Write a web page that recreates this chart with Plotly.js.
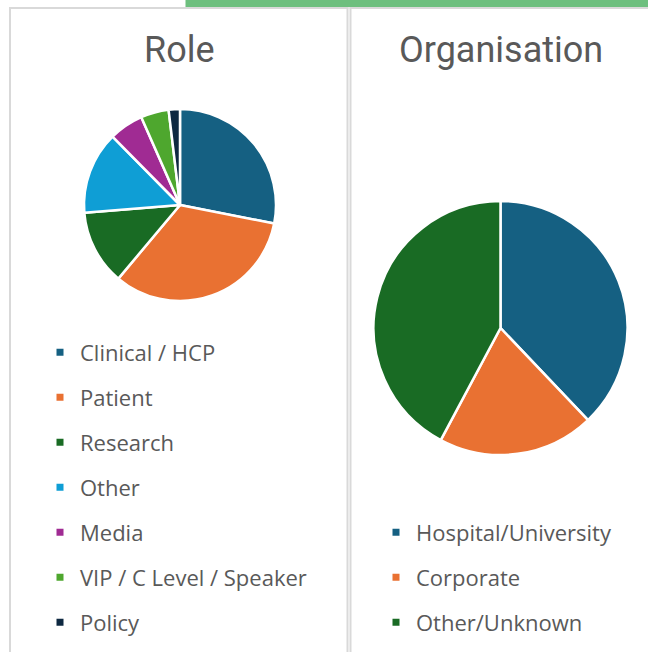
<!DOCTYPE html>
<html>
<head>
<meta charset="utf-8">
<script src="https://cdn.plot.ly/plotly-3.0.1.min.js"></script>
<style>html,body{margin:0;padding:0;background:#fff;}#chart{width:648px;height:652px;}</style>
</head>
<body>
<div id="chart"></div>
<script>
const roleLabels = ['Clinical / HCP', 'Patient', 'Research', 'Other', 'Media', 'VIP / C Level / Speaker', 'Policy'];
const roleValues = [28.1, 33.0, 12.6, 13.9, 5.8, 4.7, 1.9];
const roleColors = ['#156082', '#e97132', '#196b24', '#0f9ed5', '#a02b93', '#4ea72e', '#0e2841'];

const orgLabels = ['Hospital/University', 'Corporate', 'Other/Unknown'];
const orgValues = [37.9, 19.9, 42.2];
const orgColors = ['#156082', '#e97132', '#196b24'];

const chartTitles = ['Role', 'Organisation'];

const W = 648, H = 652;
const px = x => x / W;
const py = y => 1 - y / H;

const traces = [];
traces.push({
  type: 'pie', labels: roleLabels, values: roleValues, sort: false,
  direction: 'clockwise', rotation: 0, textinfo: 'none', hoverinfo: 'label+percent',
  marker: {colors: roleColors, line: {color: '#ffffff', width: 2.5}},
  showlegend: false,
  domain: {x: [px(84), px(276)], y: [py(301), py(109)]}
});
traces.push({
  type: 'pie', labels: orgLabels, values: orgValues, sort: false,
  direction: 'clockwise', rotation: 0, textinfo: 'none', hoverinfo: 'label+percent',
  marker: {colors: orgColors, line: {color: '#ffffff', width: 2.5}},
  showlegend: false,
  domain: {x: [px(373.5), px(627.5)], y: [py(455), py(201)]}
});
roleLabels.forEach((l, i) => traces.push({
  type: 'scatter', mode: 'markers', x: [null], y: [null], name: l,
  marker: {symbol: 'square', size: 7, color: roleColors[i]},
  legend: 'legend', legendgroup: 'r' + i, hoverinfo: 'skip'
}));
orgLabels.forEach((l, i) => traces.push({
  type: 'scatter', mode: 'markers', x: [null], y: [null], name: l,
  marker: {symbol: 'square', size: 7, color: orgColors[i]},
  legend: 'legend2', legendgroup: 'o' + i, hoverinfo: 'skip'
}));

const legFont = {family: 'Open Sans, sans-serif', size: 22, color: '#595959'};
const grey = '#d9d9d9';
const layout = {
  width: W, height: H,
  margin: {l: 0, r: 0, t: 0, b: 0},
  paper_bgcolor: '#ffffff', plot_bgcolor: '#ffffff',
  xaxis: {visible: false, domain: [0, 0.01]},
  yaxis: {visible: false, domain: [0, 0.01]},
  legend: {x: px(40), y: py(331.5), xanchor: 'left', yanchor: 'top', font: legFont,
    traceorder: 'grouped', tracegroupgap: 13.4, bgcolor: 'rgba(0,0,0,0)'},
  legend2: {x: px(376), y: py(511.5), xanchor: 'left', yanchor: 'top', font: legFont,
    traceorder: 'grouped', tracegroupgap: 13.4, bgcolor: 'rgba(0,0,0,0)'},
  annotations: [
    {text: chartTitles[0], x: px(179), y: py(50), xref: 'paper', yref: 'paper', showarrow: false,
     xanchor: 'center', yanchor: 'middle', font: {family: 'Roboto, sans-serif', size: 36, color: '#595959'}},
    {text: chartTitles[1], x: px(500.5), y: py(50), xref: 'paper', yref: 'paper', showarrow: false,
     xanchor: 'center', yanchor: 'middle', font: {family: 'Roboto, sans-serif', size: 36, color: '#595959'}}
  ],
  shapes: [
    {type: 'rect', xref: 'paper', yref: 'paper', x0: px(185.5), x1: 1, y0: py(7), y1: 1,
     fillcolor: '#6dbf7e', line: {width: 0}, layer: 'above'},
    {type: 'line', xref: 'paper', yref: 'paper', x0: px(10), x1: px(10), y0: py(7), y1: 0, line: {color: grey, width: 2}},
    {type: 'line', xref: 'paper', yref: 'paper', x0: px(9), x1: px(348.5), y0: py(8), y1: py(8), line: {color: grey, width: 2}},
    {type: 'line', xref: 'paper', yref: 'paper', x0: px(347.5), x1: px(347.5), y0: py(7), y1: 0, line: {color: grey, width: 2}},
    {type: 'line', xref: 'paper', yref: 'paper', x0: px(350.5), x1: px(350.5), y0: py(7), y1: 0, line: {color: grey, width: 2}},
    {type: 'line', xref: 'paper', yref: 'paper', x0: px(349.5), x1: 1, y0: py(8), y1: py(8), line: {color: grey, width: 2}}
  ]
};

Plotly.newPlot('chart', traces, layout, {displayModeBar: false, staticPlot: false});
</script>
</body>
</html>
